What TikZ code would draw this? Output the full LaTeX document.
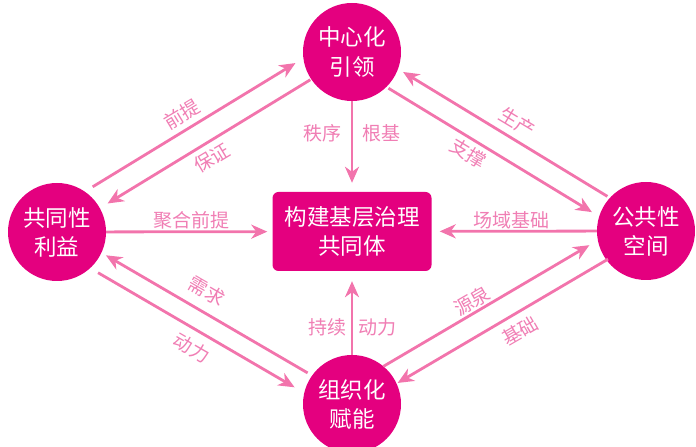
\documentclass[tikz,border=0pt]{standalone}
\usepackage{fontspec}
\newfontfamily\cjk{Noto Sans CJK SC}
\usetikzlibrary{arrows.meta,calc}
\definecolor{mag}{HTML}{E4007F}
\definecolor{arrpink}{HTML}{F274AC}
\definecolor{lblpink}{HTML}{F07EB4}
\begin{document}
\begin{tikzpicture}[x=1pt,y=1pt,
  hub/.style={circle, fill=mag, minimum size=98pt, inner sep=0pt, text=white,
    font=\cjk\fontsize{22.5}{29}\selectfont, align=center},
  core/.style={rectangle, rounded corners=6pt, fill=mag, minimum width=159pt,
    minimum height=79pt, text=white, font=\cjk\fontsize{22.5}{29}\selectfont, align=center},
  arr/.style={draw=arrpink, line width=2.8pt, -{Stealth[length=16pt,width=14pt,inset=5pt]}},
  lbl/.style={text=lblpink, font=\cjk\fontsize{19}{22}\selectfont, inner sep=0pt}
]
\useasboundingbox (0,0) rectangle (696,447);
\node[hub] (T) at (352,395) {中心化\\引领};
\node[hub] (L) at (57,215) {共同性\\利益};
\node[hub] (R) at (646,216) {公共性\\空间};
\node[hub] (B) at (352,43) {组织化\\赋能};
\node[core] (C) at (352,215.5) {构建基层治理\\共同体};

% straight arrows to the core
\draw[arr, shorten >=5pt] (L) -- (C);
\draw[arr, shorten >=8pt] (R) -- (C);
\draw[arr, shorten >=9pt] (T) -- (C);
\draw[arr, shorten >=10pt] (B) -- (C);

% L - T pair
\draw[arr, shorten <=54pt, shorten >=54pt] ($(L.center)!20pt!90:(T.center)$) -- ($(T.center)!20pt!-90:(L.center)$);
\draw[arr, shorten <=50pt, shorten >=58pt] ($(T.center)!2pt!90:(L.center)$) -- ($(L.center)!2pt!-90:(T.center)$);
% T - R pair
\draw[arr, shorten <=51pt, shorten >=54pt] ($(R.center)!9.5pt!-90:(T.center)$) -- ($(T.center)!9.5pt!90:(R.center)$);
\draw[arr, shorten <=50pt, shorten >=56pt] ($(T.center)!12pt!-90:(R.center)$) -- ($(R.center)!12pt!90:(T.center)$);
% L - B pair
\draw[arr, shorten <=54pt, shorten >=54pt] ($(B.center)!4.5pt!-90:(L.center)$) -- ($(L.center)!4.5pt!90:(B.center)$);
\draw[arr, shorten <=56pt, shorten >=58pt] ($(L.center)!14.5pt!-90:(B.center)$) -- ($(B.center)!14.5pt!90:(L.center)$);
% B - R pair
\draw[arr, shorten <=46pt, shorten >=56pt] ($(B.center)!16.5pt!90:(R.center)$) -- ($(R.center)!16.5pt!-90:(B.center)$);
\draw[arr, shorten <=47pt, shorten >=50pt] ($(R.center)!5pt!90:(B.center)$) -- ($(B.center)!5pt!-90:(R.center)$);

% labels
\node[lbl, rotate=31] (l1) at (182,333) {前提};
\node[lbl, rotate=31] (l2) at (212,289) {保证};
\node[lbl, rotate=-31] (l3) at (517,325) {生产};
\node[lbl, rotate=-31] (l4) at (468,294) {支撑};
\node[lbl, rotate=-30] (l5) at (207,156) {需求};
\node[lbl, rotate=-30] (l6) at (192,99) {动力};
\node[lbl, rotate=30] (l7) at (472,146) {源泉};
\node[lbl, rotate=30] (l8) at (520,116) {基础};
\node[lbl] (l9) at (322,314) {秩序};
\node[lbl] (l10) at (381,314) {根基};
\node[lbl] (l11) at (327,120) {持续};
\node[lbl] (l12) at (377,120) {动力};
\node[lbl] (l13) at (191,227) {聚合前提};
\node[lbl] (l14) at (511,227) {场域基础};
\end{tikzpicture}
\end{document}
